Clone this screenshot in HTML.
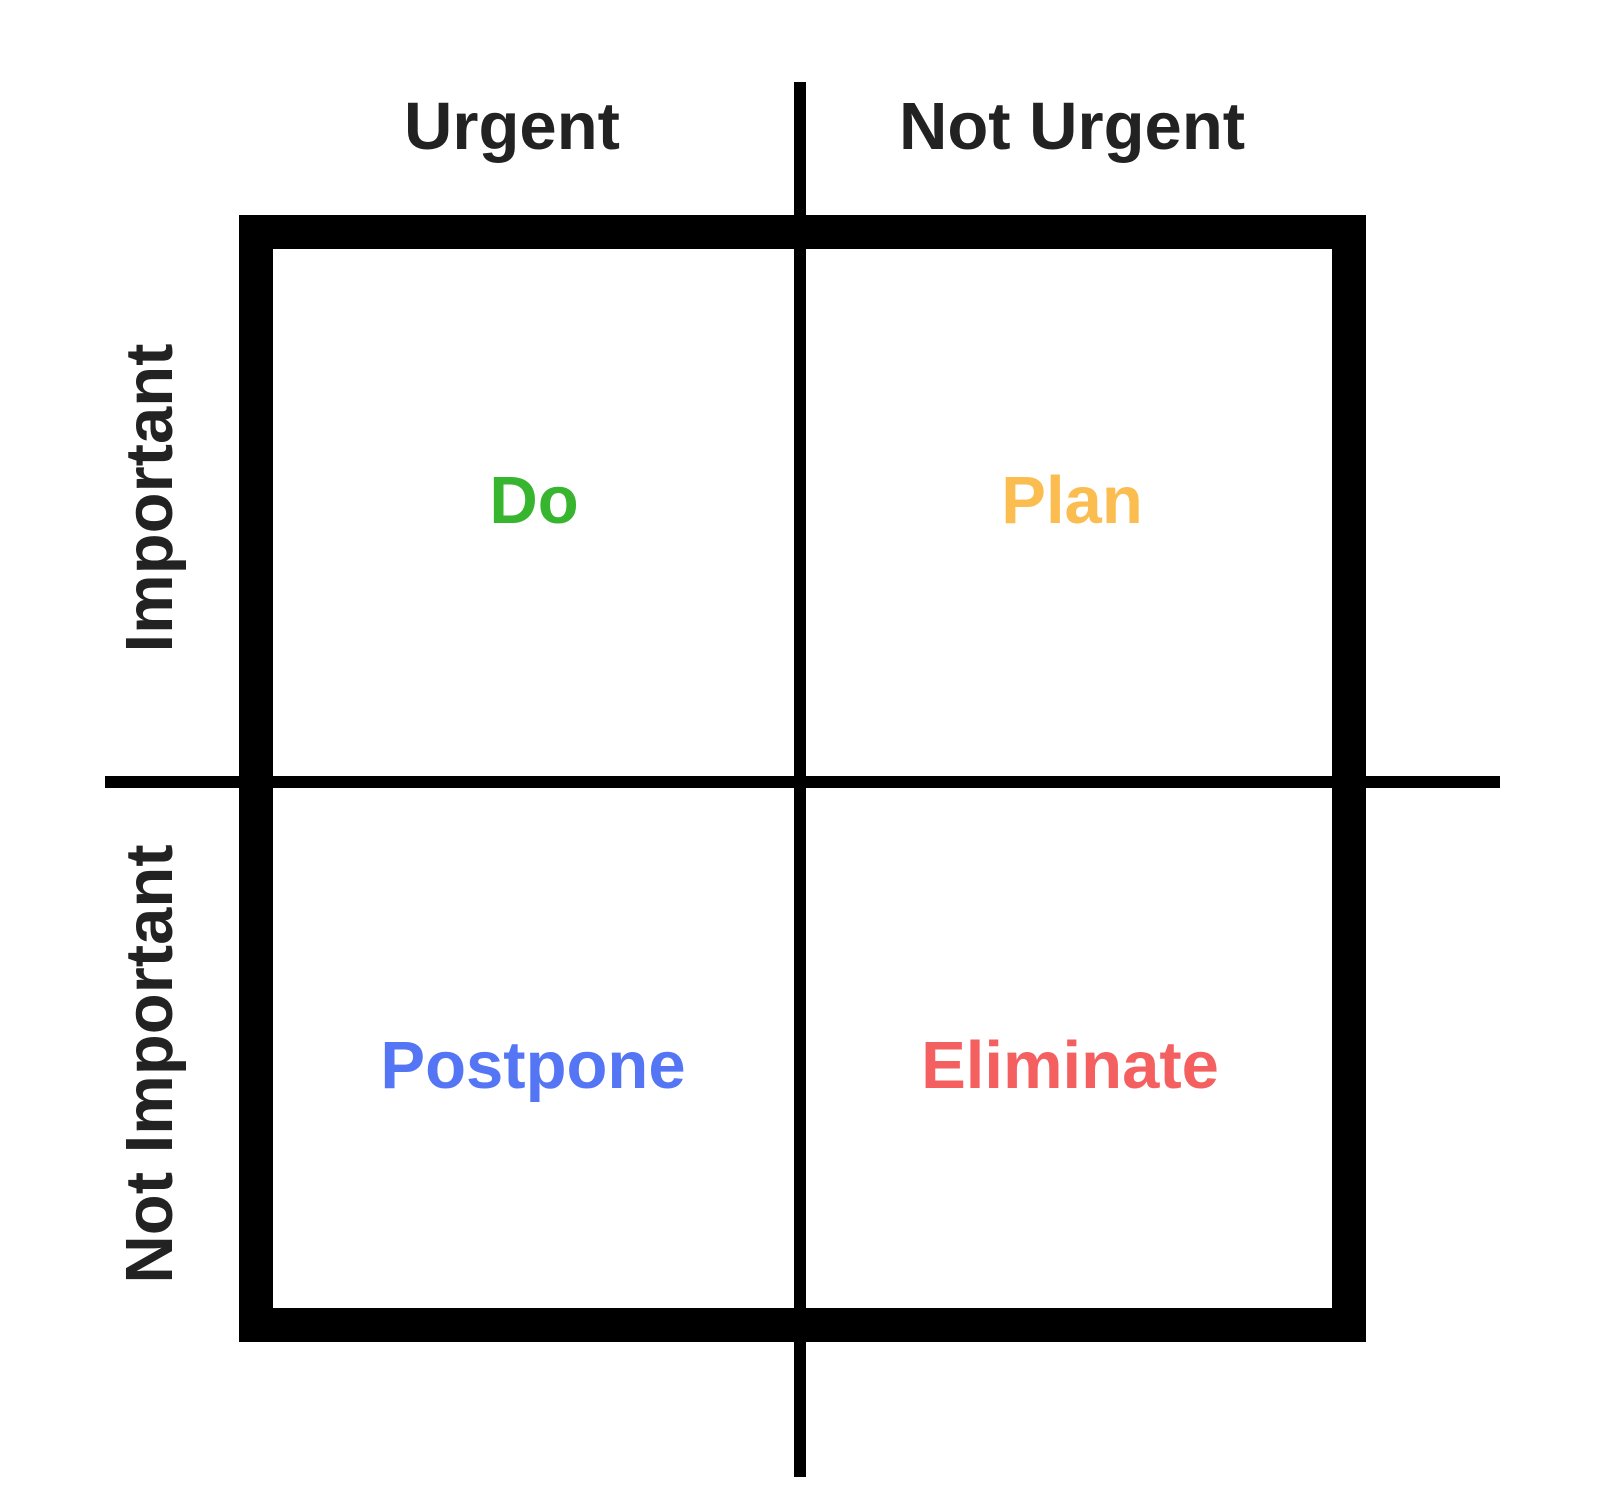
<!DOCTYPE html>
<html><head><meta charset="utf-8"><style>
html,body{margin:0;padding:0;background:#fff;}
svg{display:block;}
text{font-family:"Liberation Sans",Arial,sans-serif;font-weight:bold;}
</style></head><body>
<svg width="1600" height="1507" viewBox="0 0 1600 1507" xmlns="http://www.w3.org/2000/svg">
<rect width="1600" height="1507" fill="#fff"/>
<rect x="794" y="82" width="12" height="1395" fill="#000"/>
<rect x="105" y="776" width="1395" height="12" fill="#000"/>
<rect x="256" y="232" width="1093" height="1093" fill="none" stroke="#000" stroke-width="34"/>
<text x="512" y="149" font-size="67" fill="#222" text-anchor="middle">Urgent</text>
<text x="1072" y="149" font-size="67" fill="#222" text-anchor="middle">Not Urgent</text>
<text transform="translate(172,498) rotate(-90)" font-size="67" fill="#222" text-anchor="middle">Important</text>
<text transform="translate(172,1064) rotate(-90)" font-size="67" fill="#222" text-anchor="middle">Not Important</text>
<text x="534" y="523" font-size="67" fill="#37b52f" text-anchor="middle">Do</text>
<text x="1072" y="523" font-size="67" fill="#fbbd4f" text-anchor="middle">Plan</text>
<text x="533" y="1088" font-size="67" fill="#5576f4" text-anchor="middle">Postpone</text>
<text x="1070" y="1088" font-size="67" fill="#f45f60" text-anchor="middle">Eliminate</text>
</svg>
</body></html>
